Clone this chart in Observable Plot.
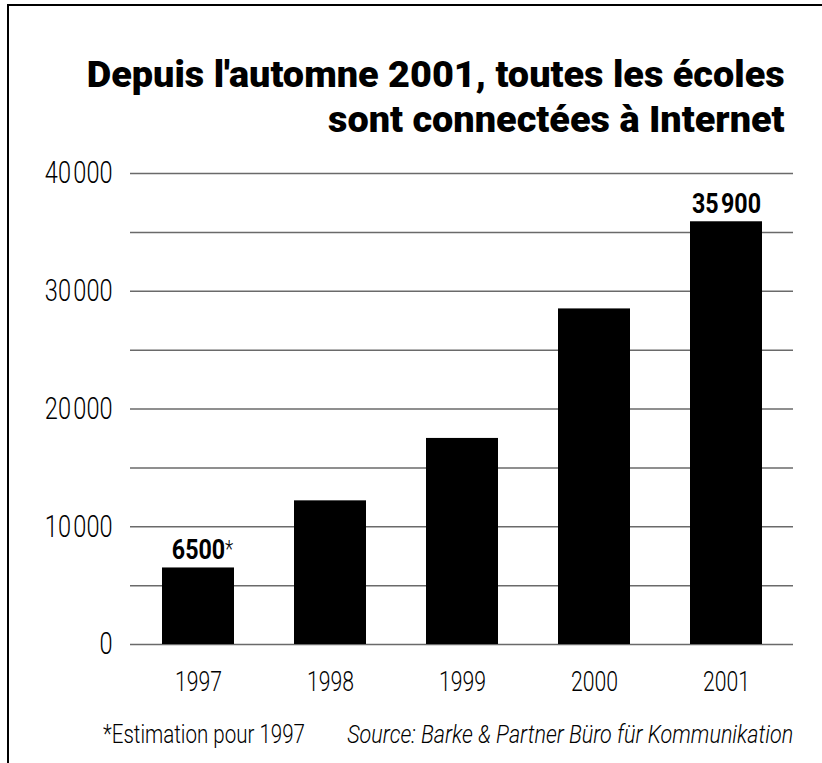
<!DOCTYPE html>
<html>
<head>
<meta charset="utf-8">
<script src="https://cdn.jsdelivr.net/npm/d3@7"></script>
<script src="https://cdn.jsdelivr.net/npm/@observablehq/plot@0.6"></script>
<style>
  html, body { margin: 0; padding: 0; background: #fff; }
  #wrap { position: relative; width: 822px; height: 763px; overflow: hidden; font-family: Roboto, "DejaVu Sans Condensed", sans-serif; color: #000; }
  #frame { position: absolute; left: 7px; top: 4px; width: 900px; height: 900px; border-left: 2px solid #000; border-top: 2px solid #000; }
  .tline { position: absolute; right: 37px; font-weight: 900; font-size: 37px; line-height: 1; white-space: nowrap; transform-origin: right center; }
  #t1 { top: 56px; }
  #t2 { top: 101px; }
  #chart { position: absolute; left: 0; top: 140px; }
  .foot { position: absolute; top: 722px; font-size: 25px; font-weight: 300; line-height: 1; white-space: nowrap; }
  #note { left: 103px; transform-origin: left center; }
  #source { right: 29px; font-style: italic; transform-origin: right center; }
</style>
</head>
<body>
<div id="wrap">
  <div id="frame"></div>
  <div id="t1" class="tline">Depuis l'automne 2001, toutes les écoles</div>
  <div id="t2" class="tline">sont connectées à Internet</div>
  <div id="chart"></div>
  <div id="note" class="foot">*Estimation pour 1997</div>
  <div id="source" class="foot">Source: Barke &amp; Partner Büro für Kommunikation</div>
</div>
<script>
const years = ["1997", "1998", "1999", "2000", "2001"];
const schools = [6500, 12200, 17500, 28500, 35900];
const labelYears = ["1997", "2001"];
const labelTexts = ["6500", "35\u200A900"];
const noteYears = ["1997"];
const noteMarks = ["*"];
const gridValues = [0, 5000, 10000, 15000, 20000, 25000, 30000, 35000, 40000];
const tickValues = [0, 10000, 20000, 30000, 40000];

const data = years.map((y, i) => ({year: y, value: schools[i]}));
const labels = labelYears.map((y, i) => ({year: y, value: schools[years.indexOf(y)], text: labelTexts[i]}));
const notes = noteYears.map((y, i) => ({year: y, value: schools[years.indexOf(y)], text: noteMarks[i]}));

const fmt = d => d === 0 ? "0" : d3.format(",")(d).replace(/,/g, "\u200A");
const font = "Roboto, 'DejaVu Sans Condensed', sans-serif";

const chart = Plot.plot({
  width: 822,
  height: 570,
  marginTop: 33,
  marginBottom: 66,
  marginLeft: 130,
  marginRight: 29,
  style: {fontFamily: font, background: "transparent", color: "#000"},
  x: {domain: years, paddingInner: 0.457, paddingOuter: 0.2285, label: null},
  y: {domain: [0, 40000], label: null},
  marks: [
    Plot.ruleY(gridValues, {stroke: "#6a6a6a", strokeWidth: 1.5}),
    Plot.barY(data, {x: "year", y: "value", fill: "#000"}),
    Plot.axisY(tickValues, {tickSize: 0, tickPadding: 18, tickFormat: fmt, fontSize: 31, fontWeight: 300, label: null, fill: "#000"}),
    Plot.axisX({tickSize: 0, tickPadding: 27, fontSize: 28, fontWeight: 300, label: null, fill: "#000"}),
    Plot.text(labels, {x: "year", y: "value", text: "text", dy: -9, lineAnchor: "bottom", fontWeight: "bold", fontSize: 27, fill: "#000"}),
    Plot.text(notes, {x: "year", y: "value", text: "text", dy: -11, dx: 26.5, lineAnchor: "bottom", textAnchor: "start", fontSize: 24, fontWeight: 300, fill: "#000"})
  ]
});
document.getElementById("chart").appendChild(chart);

// condense text horizontally (the reference uses a condensed typeface)
function condense(el, s) {
  const t = el.getAttribute("transform");
  if (t) el.setAttribute("transform", t + ` scale(${s},1)`);
  else {
    const x = +el.getAttribute("x") || 0, y = +el.getAttribute("y") || 0;
    el.removeAttribute("x"); el.removeAttribute("y");
    el.setAttribute("transform", `translate(${x},${y}) scale(${s},1)`);
  }
}
function fitGroup(selector, refText, targetWidth) {
  const els = Array.from(chart.querySelectorAll(selector));
  const ref = els.find(e => e.textContent === refText) || els[0];
  if (!ref) return;
  const s = targetWidth / ref.getBBox().width;
  els.forEach(e => condense(e, s));
}
fitGroup('g[aria-label="y-axis tick label"] text', fmt(40000), 67.7);
fitGroup('g[aria-label="x-axis tick label"] text', "1997", 47);
const textGroups = chart.querySelectorAll('g[aria-label="text"]');
if (textGroups[0]) {
  const els = Array.from(textGroups[0].querySelectorAll("text"));
  const s = 53.4 / els[0].getBBox().width;
  els.forEach(e => condense(e, s));
}
if (textGroups[1]) textGroups[1].querySelectorAll("text").forEach(e => condense(e, 0.8));

// HTML texts
function fitHtml(id, w, sOverride) {
  const el = document.getElementById(id);
  const s = sOverride || w / el.getBoundingClientRect().width;
  el.style.transform = `scaleX(${s})`;
  return s;
}
const ts = fitHtml("t1", 698);
fitHtml("t2", 0, ts);
fitHtml("note", 202);
fitHtml("source", 446);
</script>
</body>
</html>
